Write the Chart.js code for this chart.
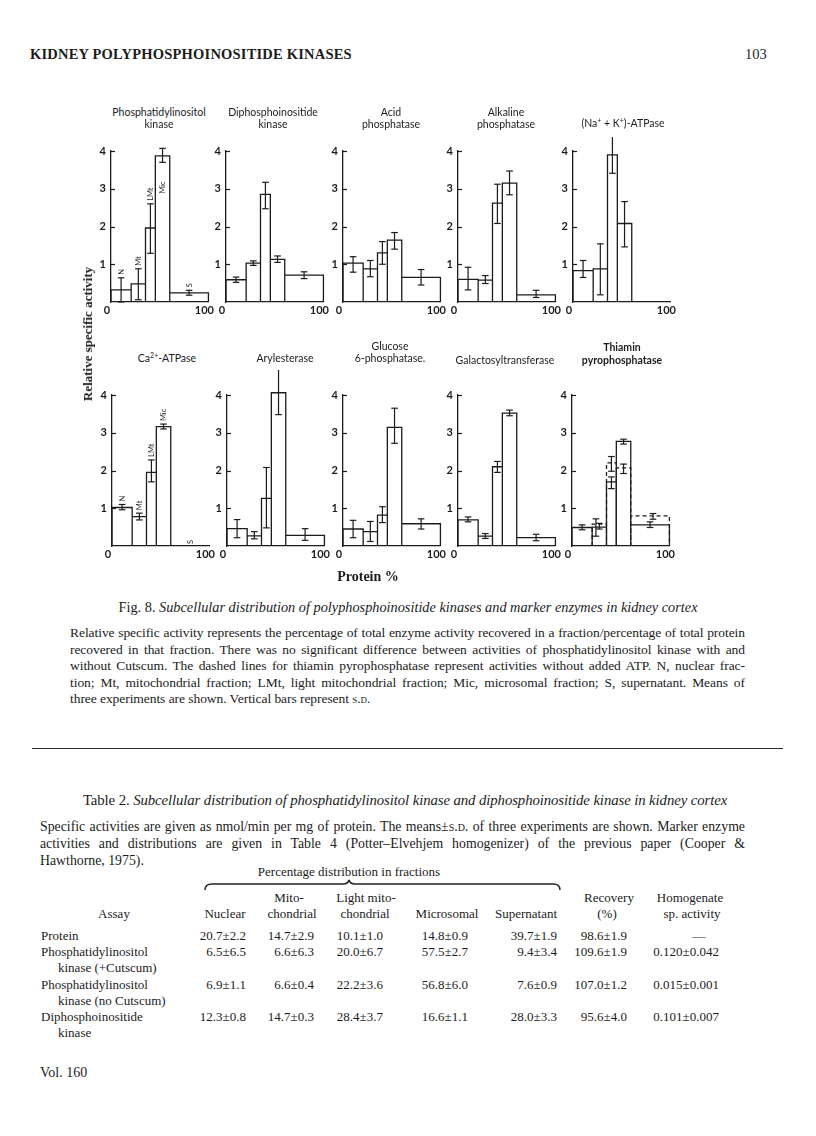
<!DOCTYPE html>
<html>
<head>
<meta charset="utf-8">
<script src="https://cdn.jsdelivr.net/npm/chart.js@4.4.1/dist/chart.umd.min.js"></script>
<style>
  html, body { margin:0; padding:0; background:#fff; }
  body { width:816px; height:1136px; position:relative; overflow:hidden; color:#1c1c1c; font-family:"Liberation Serif", "DejaVu Serif", serif; }
  .abs { position:absolute; white-space:nowrap; }
  canvas.panel { position:absolute; }
  .ptitle { position:absolute; font-family:Lato, "Open Sans", sans-serif; font-size:10.5px; line-height:11px; text-align:center; transform:translateX(-50%); white-space:nowrap; }
  .ptitle sup { font-size:7px; line-height:0; }
  .jline { position:absolute; white-space:nowrap; text-align:justify; text-align-last:justify; }
  .sc { font-variant:small-caps; }
  .tc { position:absolute; white-space:nowrap; font-size:13px; line-height:15px; }
</style>
</head>
<body>
<div id="page"></div>
<script>
// ---------------- DATA ----------------
const fractionLabels = ['N', 'Mt', 'LMt', 'Mic', 'S'];
const protein = [20.7, 14.7, 10.1, 14.8, 39.7];          // % protein per fraction (bar widths)
const yTicks = [1, 2, 3, 4];
const xTickLabels = [0, 100];

const piKinase    = [0.32, 0.48, 1.96, 3.87, 0.24];
const piKinaseLo  = [0.00, 0.06, 1.29, 3.70, 0.18];
const piKinaseHi  = [0.64, 0.88, 2.60, 4.07, 0.31];

const dpiKinase   = [0.59, 1.03, 2.85, 1.13, 0.71];
const dpiKinaseLo = [0.52, 0.97, 2.47, 1.05, 0.62];
const dpiKinaseHi = [0.66, 1.09, 3.17, 1.22, 0.80];

const acidPhos    = [1.03, 0.88, 1.30, 1.64, 0.65];
const acidPhosLo  = [0.79, 0.67, 1.00, 1.40, 0.45];
const acidPhosHi  = [1.20, 1.10, 1.60, 1.84, 0.86];

const alkPhos     = [0.60, 0.58, 2.62, 3.15, 0.19];
const alkPhosLo   = [0.32, 0.49, 2.08, 2.84, 0.12];
const alkPhosHi   = [0.92, 0.70, 3.12, 3.47, 0.31];

const naKAtpase   = [0.83, 0.88, 3.90, 2.08, null];
const naKAtpaseLo = [0.65, 0.19, 3.41, 1.46, null];
const naKAtpaseHi = [1.10, 1.54, 4.37, 2.66, null];

const caAtpase    = [1.02, 0.78, 1.95, 3.16, null];
const caAtpaseLo  = [0.96, 0.69, 1.70, 3.10, null];
const caAtpaseHi  = [1.10, 0.87, 2.28, 3.23, null];

const arylest     = [0.46, 0.27, 1.26, 4.06, 0.28];
const arylestLo   = [0.22, 0.19, 0.48, 3.48, 0.15];
const arylestHi   = [0.70, 0.38, 2.08, 4.66, 0.46];

const g6Pase      = [0.45, 0.38, 0.82, 3.14, 0.59];
const g6PaseLo    = [0.22, 0.12, 0.62, 2.72, 0.45];
const g6PaseHi    = [0.68, 0.65, 1.04, 3.65, 0.72];

const galTrans    = [0.69, 0.26, 2.10, 3.52, 0.22];
const galTransLo  = [0.64, 0.20, 1.95, 3.45, 0.14];
const galTransHi  = [0.77, 0.33, 2.24, 3.60, 0.31];

const tppase      = [0.49, 0.50, 1.70, 2.77, 0.56];
const tppaseLo    = [0.43, 0.45, 1.52, 2.70, 0.49];
const tppaseHi    = [0.56, 0.60, 1.83, 2.83, 0.64];
const tppaseNoAtp   = [null, 0.58, 2.20, 2.07, 0.80];
const tppaseNoAtpLo = [null, 0.26, 1.98, 1.92, 0.71];
const tppaseNoAtpHi = [null, 0.72, 2.37, 2.17, 0.86];

// table 2
const tableAssays = [
  ['Protein'],
  ['Phosphatidylinositol', 'kinase (+Cutscum)'],
  ['Phosphatidylinositol', 'kinase (no Cutscum)'],
  ['Diphosphoinositide', 'kinase']
];
const tableNuclear     = ['20.7±2.2', '6.5±6.5', '6.9±1.1', '12.3±0.8'];
const tableMito        = ['14.7±2.9', '6.6±6.3', '6.6±0.4', '14.7±0.3'];
const tableLightMito   = ['10.1±1.0', '20.0±6.7', '22.2±3.6', '28.4±3.7'];
const tableMicrosomal  = ['14.8±0.9', '57.5±2.7', '56.8±6.0', '16.6±1.1'];
const tableSupernatant = ['39.7±1.9', '9.4±3.4', '7.6±0.9', '28.0±3.3'];
const tableRecovery    = ['98.6±1.9', '109.6±1.9', '107.0±1.2', '95.6±4.0'];
const tableHomogenate  = ['—', '0.120±0.042', '0.015±0.001', '0.101±0.007'];

// ---------------- STYLE / LAYOUT ----------------
const ink = '#1c1c1c';
const plotW = 99, plotH = 151;
const padL = 30, padT = 30, padR = 10, padB = 20;
const rowTop = [151, 395];
const colAxisX = [[111, 226, 343, 458, 573], [112, 227, 343, 458, 572]];

const panels = [
  { row:0, col:0, title:['Phosphatidylinositol','kinase'], tx:159, ty:[107,119], mean:piKinase, lo:piKinaseLo, hi:piKinaseHi, labelPos:['above','above','above','inside','above'] },
  { row:0, col:1, title:['Diphosphoinositide','kinase'], tx:273, ty:[107,119], mean:dpiKinase, lo:dpiKinaseLo, hi:dpiKinaseHi },
  { row:0, col:2, title:['Acid','phosphatase'], tx:391, ty:[107,119], mean:acidPhos, lo:acidPhosLo, hi:acidPhosHi },
  { row:0, col:3, title:['Alkaline','phosphatase'], tx:506, ty:[107,119], mean:alkPhos, lo:alkPhosLo, hi:alkPhosHi },
  { row:0, col:4, title:['(Na<sup>+</sup> + K<sup>+</sup>)-ATPase'], tx:623, ty:[118], mean:naKAtpase, lo:naKAtpaseLo, hi:naKAtpaseHi },
  { row:1, col:0, title:['Ca<sup>2+</sup>-ATPase'], tx:167, ty:[353], mean:caAtpase, lo:caAtpaseLo, hi:caAtpaseHi, labelPos:['above','above','above','above','base'] },
  { row:1, col:1, title:['Arylesterase'], tx:285, ty:[353], mean:arylest, lo:arylestLo, hi:arylestHi },
  { row:1, col:2, title:['Glucose','6-phosphatase.'], tx:390, ty:[341,353], mean:g6Pase, lo:g6PaseLo, hi:g6PaseHi },
  { row:1, col:3, title:['Galactosyltransferase'], tx:505, ty:[355], mean:galTrans, lo:galTransLo, hi:galTransHi },
  { row:1, col:4, title:['Thiamin','pyrophosphatase'], tx:622, ty:[342,355], bold:true, mean:tppase, lo:tppaseLo, hi:tppaseHi,
    dashMean:tppaseNoAtp, dashLo:tppaseNoAtpLo, dashHi:tppaseNoAtpHi, dashErrShift:[0,-3.5,0,0,3] }
];

// ---------------- HELPERS ----------------
function edges() { const e=[0]; protein.forEach(p=>e.push(e[e.length-1]+p)); return e; }
function rectPoints(vals) {
  const e = edges(), pts = [];
  vals.forEach((v,i)=>{
    if (v==null) return;
    pts.push({x:e[i],y:0},{x:e[i],y:v},{x:e[i+1],y:v},{x:e[i+1],y:0},{x:e[i+1],y:null});
  });
  return pts;
}
function errPoints(lo, hi, shift) {
  const e = edges(), pts = [];
  lo.forEach((l,i)=>{
    if (l==null) return;
    const m = (e[i]+e[i+1])/2 + (shift ? shift[i] : 0);
    pts.push({x:m,y:l},{x:m,y:hi[i]},{x:m,y:null});
  });
  return pts;
}

const inwardTicks = {
  id:'inwardTicks',
  afterDraw(chart) {
    const {ctx, chartArea, scales:{y}} = chart;
    ctx.save(); ctx.strokeStyle = ink; ctx.lineWidth = 1.2;
    yTicks.forEach(v=>{ const py = Math.round(y.getPixelForValue(v))+0.5; ctx.beginPath(); ctx.moveTo(chartArea.left, py); ctx.lineTo(chartArea.left+4, py); ctx.stroke(); });
    ctx.restore();
  }
};
const fractionTags = {
  id:'fractionTags',
  afterDraw(chart, args, opts) {
    if (!opts || !opts.pos) return;
    const {ctx, scales:{x, y}} = chart;
    const e = edges(), p = opts.panel;
    ctx.save(); ctx.fillStyle = ink; ctx.font = '7.5px Lato, sans-serif'; ctx.textBaseline = 'middle';
    opts.pos.forEach((mode,i)=>{
      const px = x.getPixelForValue((e[i]+e[i+1])/2);
      let py, align;
      if (mode==='above') { py = y.getPixelForValue(p.hi[i]) - 3; align='left'; }
      else if (mode==='inside') { py = y.getPixelForValue(p.lo[i]) + 19; align='right'; }
      else { py = y.getPixelForValue(0) - 2; align='left'; }
      ctx.save(); ctx.translate(px, py); ctx.rotate(-Math.PI/2); ctx.textAlign = align;
      ctx.fillText(fractionLabels[i], 0, 0); ctx.restore();
    });
    ctx.restore();
  }
};

function makePanel(p) {
  const axisX = colAxisX[p.row][p.col];
  const cv = document.createElement('canvas');
  cv.className = 'panel';
  cv.width = padL + plotW + padR; cv.height = padT + plotH + padB;
  cv.style.left = (axisX - padL) + 'px';
  cv.style.top = (rowTop[p.row] - padT) + 'px';
  document.body.appendChild(cv);

  p.title.forEach((t,k)=>{
    const d = document.createElement('div');
    d.className = 'ptitle'; d.innerHTML = t;
    d.style.left = p.tx+'px'; d.style.top = p.ty[k]+'px';
    if (p.bold) d.style.fontWeight = 'bold';
    document.body.appendChild(d);
  });

  const lineBase = { type:'line', showLine:true, borderColor:ink, borderWidth:1.3, pointRadius:0, tension:0, spanGaps:false, clip:false, fill:false };
  const errBase = { type:'line', showLine:true, borderColor:ink, borderWidth:1.2, pointStyle:'line', pointRadius:3.3, pointBorderWidth:1.2, pointBorderColor:ink, pointBackgroundColor:ink, tension:0, spanGaps:false, clip:false, fill:false };
  const datasets = [
    Object.assign({}, lineBase, { data: rectPoints(p.mean) }),
    Object.assign({}, errBase, { data: errPoints(p.lo, p.hi) })
  ];
  if (p.dashMean) {
    datasets.push(Object.assign({}, lineBase, { data: rectPoints(p.dashMean), borderDash:[4,3] }));
    datasets.push(Object.assign({}, errBase, { data: errPoints(p.dashLo, p.dashHi, p.dashErrShift) }));
  }

  new Chart(cv, {
    type:'line',
    data:{ datasets },
    options:{
      responsive:false, animation:false, events:[],
      layout:{ padding:{ left:10, top:padT, right:padR, bottom:0 } },
      plugins:{ legend:{display:false}, tooltip:{enabled:false}, fractionTags: p.labelPos ? { pos:p.labelPos, panel:p } : false },
      scales:{
        x:{ type:'linear', min:0, max:100,
            afterBuildTicks: s => { s.ticks = xTickLabels.map(v=>({value:v})); },
            afterFit: s => { s.height = padB; },
            grid:{ display:true, drawOnChartArea:false, drawTicks:false, color:'rgba(0,0,0,0)' },
            border:{ display:true, color:ink, width:1.3 },
            ticks:{ color:ink, padding:2, labelOffset:-4, font:{ family:'Lato', size:11, weight:'bold' }, maxRotation:0, autoSkip:false, callback:v=>String(v) } },
        y:{ type:'linear', min:0, max:4,
            afterBuildTicks: s => { s.ticks = [0].concat(yTicks).map(v=>({value:v})); },
            afterFit: s => { s.width = 20; },
            grid:{ display:true, drawOnChartArea:false, drawTicks:false, color:'rgba(0,0,0,0)' },
            border:{ display:true, color:ink, width:1.3 },
            ticks:{ color:ink, padding:5, font:{ family:'Lato', size:11, weight:'bold' }, callback:v=> v===0 ? '' : String(v) } }
      }
    },
    plugins:[inwardTicks, fractionTags]
  });
}

function txt(html, left, top, style) {
  const d = document.createElement('div');
  d.className = 'abs'; d.innerHTML = html;
  d.style.left = left+'px'; d.style.top = top+'px';
  if (style) d.style.cssText += style;
  document.body.appendChild(d);
  return d;
}
function jline(html, left, top, width, style) {
  const d = txt(html, left, top, style);
  d.className = 'jline'; d.style.width = width+'px';
  return d;
}

// ---------------- PAGE ----------------
txt('KIDNEY POLYPHOSPHOINOSITIDE KINASES', 30, 46, 'font-weight:bold;font-size:14.5px;letter-spacing:0.2px;');
txt('103', 745, 46, 'font-size:14.5px;');

panels.forEach(makePanel);

txt('Relative specific activity', 88, 334, 'font-weight:bold;font-size:13px;transform:translate(-50%,-50%) rotate(-90deg);');
txt('Protein %', 368, 569, 'font-weight:bold;font-size:14px;transform:translateX(-50%);');

txt('Fig. 8. <i>Subcellular distribution of polyphosphoinositide kinases and marker enzymes in kidney cortex</i>', 408, 599, 'font-size:14.3px;transform:translateX(-50%);');

const capLines = [
  'Relative specific activity represents the percentage of total enzyme activity recovered in a fraction/percentage of total protein',
  'recovered in that fraction. There was no significant difference between activities of phosphatidylinositol kinase with and',
  'without Cutscum. The dashed lines for thiamin pyrophosphatase represent activities without added ATP. N, nuclear frac-',
  'tion; Mt, mitochondrial fraction; LMt, light mitochondrial fraction; Mic, microsomal fraction; S, supernatant. Means of'
];
capLines.forEach((l,i)=> jline(l, 70, 625 + i*16.6, 675, 'font-size:13.5px;letter-spacing:-0.06px;'));
txt('three experiments are shown. Vertical bars represent <span class="sc">s.d.</span>', 70, 625 + 4*16.6, 'font-size:13.5px;letter-spacing:-0.06px;');

txt('', 32, 748, 'width:751px;height:0;border-top:1.6px solid #2a2a2a;');

txt('Table 2. <i>Subcellular distribution of phosphatidylinositol kinase and diphosphoinositide kinase in kidney cortex</i>', 405, 792, 'font-size:14.8px;letter-spacing:-0.1px;transform:translateX(-50%);');

jline('Specific activities are given as nmol/min per mg of protein. The means±<span class="sc">s.d.</span> of three experiments are shown. Marker enzyme', 40, 819, 705, 'font-size:13.8px;');
jline('activities and distributions are given in Table 4 (Potter–Elvehjem homogenizer) of the previous paper (Cooper &amp;', 40, 836, 705, 'font-size:13.8px;');
txt('Hawthorne, 1975).', 40, 853, 'font-size:13.8px;');

txt('Percentage distribution in fractions', 349, 864, 'font-size:13px;transform:translateX(-50%);');
// brace
const svgNS = 'http://www.w3.org/2000/svg';
const svg = document.createElementNS(svgNS,'svg');
svg.setAttribute('width','816'); svg.setAttribute('height','20');
svg.style.cssText = 'position:absolute;left:0;top:876px;';
const path = document.createElementNS(svgNS,'path');
path.setAttribute('d','M205,14 Q205,8 212,8 L343,8 Q348,8 349,4 Q350,8 355,8 L553,8 Q560,8 560,14');
path.setAttribute('fill','none'); path.setAttribute('stroke','#222'); path.setAttribute('stroke-width','1.5');
svg.appendChild(path); document.body.appendChild(svg);

function tcell(text, x, top, align) {
  const d = document.createElement('div');
  d.className = 'tc'; d.textContent = text; d.style.top = top+'px';
  if (align==='right') { d.style.left = (x-200)+'px'; d.style.width='200px'; d.style.textAlign='right'; }
  else if (align==='center') { d.style.left = x+'px'; d.style.transform='translateX(-50%)'; }
  else d.style.left = x+'px';
  document.body.appendChild(d);
}
const h1 = 890, h2 = 906;
tcell('Mito-', 289, h1, 'center'); tcell('Light mito-', 366, h1, 'center');
tcell('Recovery', 609, h1, 'center'); tcell('Homogenate', 690, h1, 'center');
tcell('Assay', 114, h2, 'center'); tcell('Nuclear', 225, h2, 'center');
tcell('chondrial', 292, h2, 'center'); tcell('chondrial', 365, h2, 'center');
tcell('Microsomal', 447, h2, 'center'); tcell('Supernatant', 526, h2, 'center');
tcell('(%)', 607, h2, 'center'); tcell('sp. activity', 692, h2, 'center');

const rowTops = [928, 944, 977, 1009];
const colRight = [246, 314, 383, 468, 557, 627, 719];
const cols = [tableNuclear, tableMito, tableLightMito, tableMicrosomal, tableSupernatant, tableRecovery, tableHomogenate];
tableAssays.forEach((a,r)=>{
  tcell(a[0], 41, rowTops[r]);
  if (a[1]) tcell(a[1], 58, rowTops[r]+16);
  cols.forEach((c,k)=>{
    if (c[r]==='—') tcell(c[r], 699, rowTops[r], 'center');
    else tcell(c[r], colRight[k], rowTops[r], 'right');
  });
});

txt('Vol. 160', 40, 1065, 'font-size:14px;');
</script>
</body>
</html>
